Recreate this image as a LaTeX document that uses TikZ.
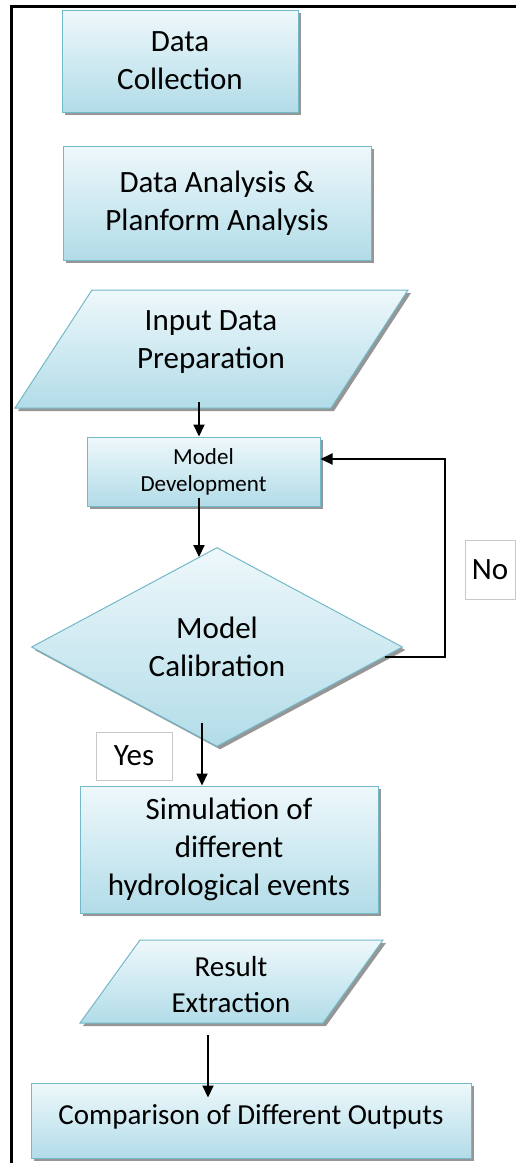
\documentclass[tikz,border=0pt]{standalone}
\usepackage{fontspec}
\setmainfont{Carlito}
\usetikzlibrary{shapes.geometric,arrows.meta,shadows}
\definecolor{boxtop}{RGB}{238,248,251}
\definecolor{boxbot}{RGB}{178,220,232}
\definecolor{boxline}{RGB}{115,185,200}
\definecolor{shadowc}{RGB}{150,150,150}
\definecolor{lblline}{RGB}{200,200,200}
\tikzset{
  flowfill/.style={draw=boxline, line width=1pt, top color=boxtop, bottom color=boxbot,
    drop shadow={shadow xshift=3pt, shadow yshift=-3pt, fill=shadowc, opacity=1}},
  flowbox/.style={flowfill, inner sep=0pt, align=center, font=\fontsize{31}{38}\selectfont},
  txtnode/.style={inner sep=0pt, align=center, font=\fontsize{31}{38}\selectfont},
  lbl/.style={draw=lblline, line width=0.8pt, fill=white, inner sep=0pt, font=\fontsize{31}{38}\selectfont},
  arr/.style={line width=2pt, -{Triangle[width=11pt,length=12pt]}},
  conn/.style={line width=2pt}
}
\begin{document}
\begin{tikzpicture}[x=1pt,y=-1pt]
\useasboundingbox (0,0) rectangle (516,1163);
\fill[white] (0,0) rectangle (516,1163);
% frame
\draw[line width=3pt] (516,6) -- (11,6) -- (11,1163);

% rectangles
\node[flowbox, minimum width=236, minimum height=102] (dc) at (180,61) {Data\\Collection};
\node[flowbox, minimum width=308, minimum height=114] (da) at (217,203) {Data Analysis \&\\Planform Analysis};

% input data parallelogram
\path[flowfill] (92,290) -- (408,290) -- (331,408) -- (15,408) -- cycle;
\node[txtnode] (idp) at (211,342) {Input Data\\Preparation};

\node[flowbox, minimum width=233, minimum height=69, font=\fontsize{23}{27}\selectfont] (md) at (203.5,471.5) {Model\\Development};

\node[flowbox, diamond, aspect=1.86, minimum width=371, minimum height=199] (cal) at (217,647) {Model\\Calibration};

\node[flowbox, minimum width=298, minimum height=127] (sim) at (229,849.5) {Simulation of\\different\\hydrological events};

% result parallelogram
\path[flowfill] (140,940) -- (383,940) -- (323,1023) -- (80,1023) -- cycle;
\node[txtnode, font=\fontsize{29}{36}\selectfont] (res) at (231,985) {Result\\Extraction};

\node[flowbox, minimum width=440, minimum height=75, font=\fontsize{29}{36}\selectfont, text depth=12pt] (cmp) at (251,1120.5) {Comparison of Different Outputs};

% labels
\node[lbl, minimum width=76, minimum height=48] (yes) at (134,756) {Yes};
\node[lbl, minimum width=50, minimum height=59] (no) at (490,569.5) {No};

% connectors
\draw[arr] ([xshift=-12pt,yshift=-60pt]idp.center) -- ([xshift=-4.5pt]md.north);
\draw[arr] ([xshift=-4.5pt,yshift=9pt]md.south) -- ([xshift=-18pt,yshift=-10pt]cal.north);
\coordinate (nocorner) at (445,459);
\draw[arr] ([xshift=-18pt,yshift=-10pt]cal.east) -| (nocorner) -- ([yshift=12.5pt]md.east);
\coordinate (yesstart) at ([xshift=-15pt,yshift=24pt]cal.south);
\draw[arr] (yesstart) -- (yesstart |- sim.north);
\draw[arr] ([xshift=-23pt,yshift=-50pt]res.center) -- ([xshift=-43pt,yshift=-15pt]cmp.north);
\end{tikzpicture}
\end{document}
